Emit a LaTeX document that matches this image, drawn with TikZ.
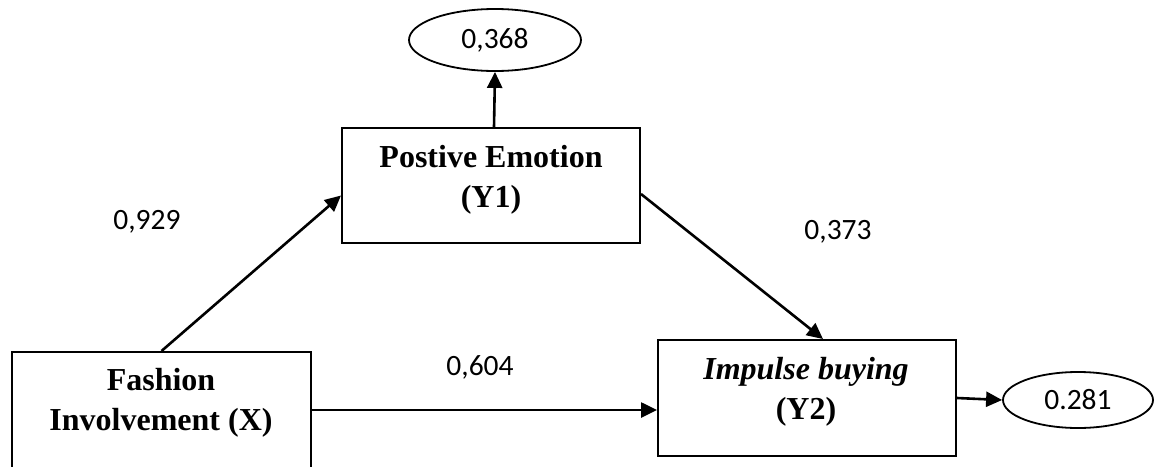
\documentclass[tikz,border=0pt]{standalone}
\usepackage{fontspec}
\setmainfont{Liberation Serif}
\newfontfamily\numfont{Carlito}
\usetikzlibrary{arrows.meta,calc,shapes.geometric}
\begin{document}
\begin{tikzpicture}[x=1pt,y=-1pt,
  box/.style={draw,line width=2pt,rectangle,inner sep=0pt},
  oval/.style={draw,line width=1.8pt,ellipse,inner sep=0pt,font=\numfont\fontsize{29.5}{35}\selectfont},
  conn/.style={line width=2.6pt,-{Triangle[length=16pt,width=15pt]}},
  lbl/.style={font=\numfont\fontsize{29.5}{35}\selectfont},
  txt/.style={font=\bfseries\fontsize{32}{40}\selectfont,align=center}]
\useasboundingbox (0,0) rectangle (1154,466);
\clip (0,0) rectangle (1154,466);
% boxes
\node[box,minimum width=298pt,minimum height=115pt] (Y1) at (491,185.5) {};
\node[box,minimum width=298pt,minimum height=116pt] (Y2) at (807,398) {};
\node[box,minimum width=299pt,minimum height=123pt] (X) at (161.5,413.5) {};
\node[oval,minimum width=172pt,minimum height=62pt] (E1) at (495,40) {0,368};
\node[oval,minimum width=150pt,minimum height=56pt] (E2) at (1078,400) {0.281};
% box texts
\node[txt] (Y1t) at (491,180) {Postive Emotion\\(Y1)};
\node[txt] (Y2t) at (806,392) {\textit{Impulse buying}\\(Y2)};
\node[txt] (Xt) at (161,403) {Fashion\\Involvement (X)};
% connectors
\draw[conn] ($(Y1.north)+(3,0)$) -- (E1.south);
\draw[conn] (X.north) -- ($(Y1.west)+(0,10)$);
\draw[conn] ($(Y1.east)+(0,8.5)$) -- ($(Y2.north)+(16,0)$);
\coordinate (xs) at ($(X.north east)+(0,59)$);
\draw[conn] (xs) -- (xs -| Y2.west);
\draw[conn] (Y2.east) -- (E2.west);
% labels
\node[lbl] (l1) at (147,222) {0,929};
\node[lbl] (l2) at (838,232) {0,373};
\node[lbl] (l3) at (480,367) {0,604};
\end{tikzpicture}
\end{document}
